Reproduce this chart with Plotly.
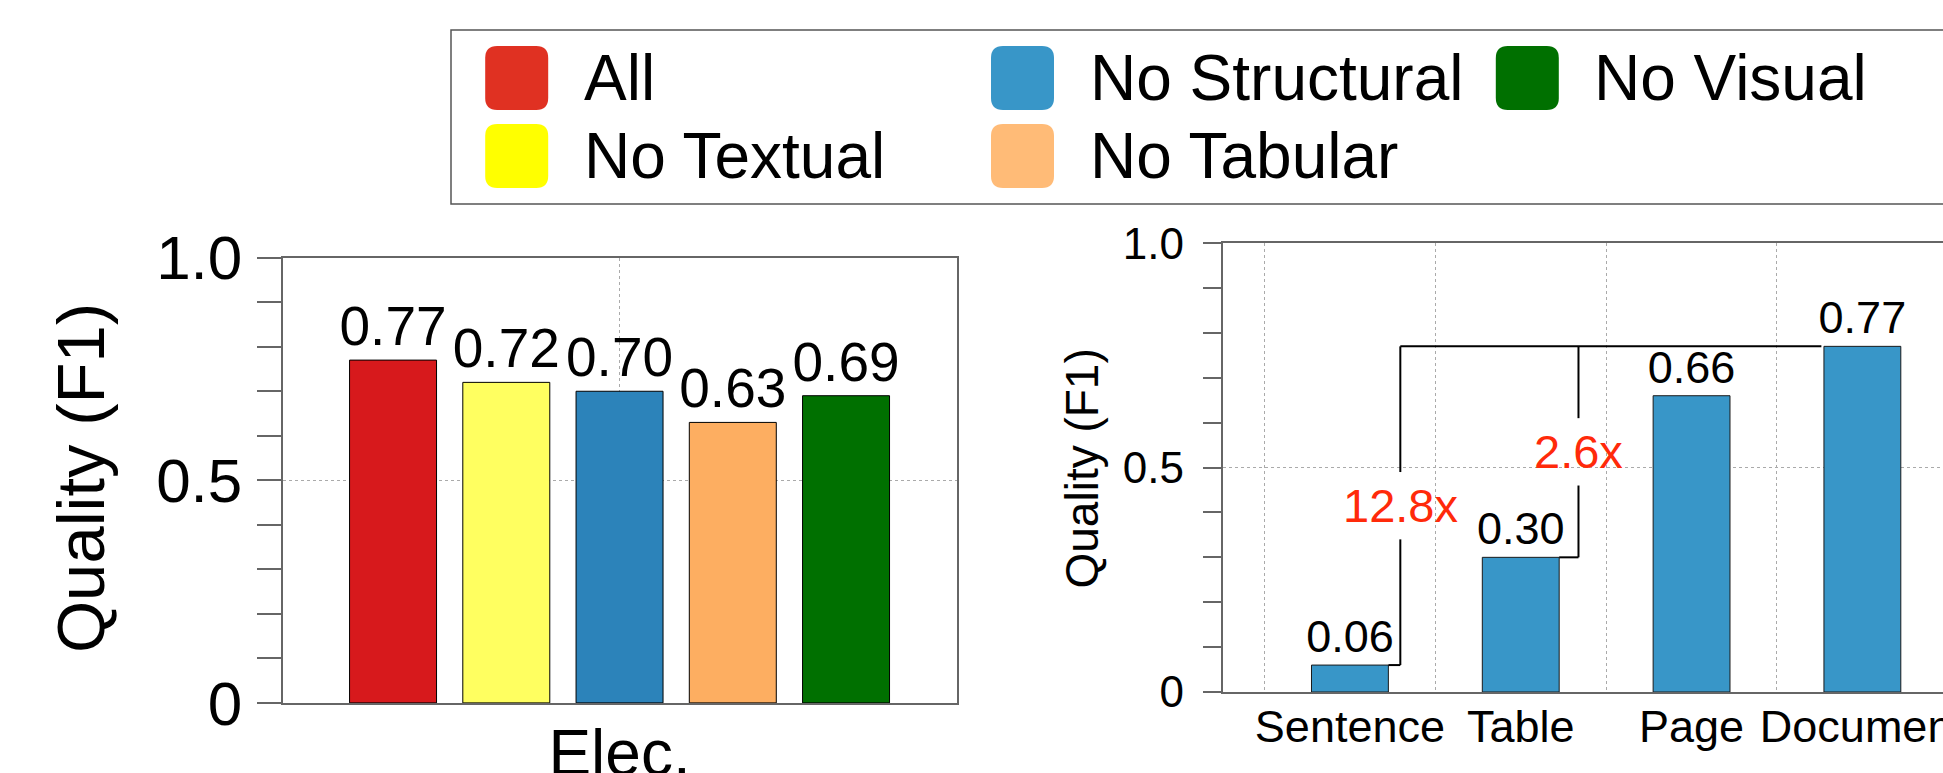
import plotly.graph_objects as go

W, H = 1943, 773
FONT = "Liberation Sans, Arial, Helvetica, sans-serif"

# ---------------- data ----------------
left_category = ["Elec."]
series_names = ["All", "No Textual", "No Structural", "No Tabular", "No Visual"]
series_values = [0.77, 0.72, 0.70, 0.63, 0.69]

granularity = ["Sentence", "Table", "Page", "Document"]
granularity_f1 = [0.06, 0.30, 0.66, 0.77]

y_tickvals = [0, 0.5, 1.0]
y_ticktext = ["0", "0.5", "1.0"]

# ---------------- style ----------------
bar_colors = ["#D7191C", "#FFFF60", "#2C83BA", "#FDAE61", "#007000"]
legend_colors = ["#E03122", "#FFFF00", "#3896C8", "#FFBB77", "#007000"]
right_color = "#3896C8"
ratio_color = "#FF2A0A"
axis_color = "#666666"
grid_color = "#AAAAAA"


def px(x):
    return x / W


def py(y):
    return 1 - y / H


fig = go.Figure()

for name, val, col in zip(series_names, series_values, bar_colors):
    fig.add_trace(go.Bar(
        x=left_category, y=[val], name=name,
        marker=dict(color=col, line=dict(color="#000000", width=1)),
        text=[f"{val:.2f}"], textposition="outside", constraintext="none",
        textfont=dict(size=55, color="black", family=FONT), cliponaxis=False,
        xaxis="x", yaxis="y", showlegend=False,
    ))

RIGHT_W = 0.45
fig.add_trace(go.Bar(
    x=granularity, y=granularity_f1, width=RIGHT_W,
    marker=dict(color=right_color, line=dict(color="#1a1a1a", width=1)),
    text=[f"{v:.2f}" for v in granularity_f1], textposition="outside", constraintext="none",
    textfont=dict(size=45, color="black", family=FONT), cliponaxis=False,
    xaxis="x2", yaxis="y2", showlegend=False,
))

common_axis = dict(showline=True, linecolor=axis_color, linewidth=1.5, zeroline=False,
                   showgrid=True, gridcolor=grid_color, griddash="dot", gridwidth=1,
                   automargin=False)

fig.update_layout(
    width=W, height=H, margin=dict(l=0, r=0, t=0, b=0),
    paper_bgcolor="white", plot_bgcolor="white",
    font=dict(family=FONT, color="black"),
    barmode="group", bargap=0.16, bargroupgap=0.232,
    showlegend=False,
    xaxis=dict(domain=[px(282.5), px(956.6)], anchor="y", type="category", range=[-0.5, 0.5],
               mirror=True, ticks="", tickangle=0, tickfont=dict(size=64), ticklabelstandoff=-6,
               **common_axis),
    yaxis=dict(domain=[py(702.9), py(257.7)], anchor="x", range=[0, 1],
               tickvals=y_tickvals, ticktext=y_ticktext, mirror=True,
               ticks="outside", ticklen=24, tickwidth=1.5, tickcolor=axis_color,
               tickfont=dict(size=62), ticklabelstandoff=2,
               minor=dict(ticks="outside", ticklen=24, tickwidth=1.5, tickcolor=axis_color,
                          dtick=0.1, showgrid=False),
               **common_axis),
    xaxis2=dict(domain=[px(1222.5), 1.0], anchor="y2", type="category", range=[-0.746, 3.472],
                tickson="boundaries", mirror=True, ticks="", tickangle=0, tickfont=dict(size=45),
                ticklabelstandoff=-6, **common_axis),
    yaxis2=dict(domain=[py(692), py(243.1)], anchor="x2", range=[0, 1],
                tickvals=y_tickvals, ticktext=y_ticktext, mirror=False,
                ticks="outside", ticklen=18, tickwidth=1.5, tickcolor=axis_color,
                tickfont=dict(size=44), ticklabelstandoff=10,
                minor=dict(ticks="outside", ticklen=18, tickwidth=1.5, tickcolor=axis_color,
                           dtick=0.1, showgrid=False),
                **common_axis),
)

annotations = []
shapes = []

# axis titles
annotations.append(dict(text="Quality (F1)", xref="paper", yref="paper", x=px(80), y=py(478),
                        textangle=-90, showarrow=False, xanchor="center", yanchor="middle",
                        font=dict(size=67, family=FONT, color="black")))
annotations.append(dict(text="Quality (F1)", xref="paper", yref="paper", x=px(1081), y=py(468.5),
                        textangle=-90, showarrow=False, xanchor="center", yanchor="middle",
                        font=dict(size=46, family=FONT, color="black")))

# ratio brackets on right panel
top_val = granularity_f1[-1]
top_end = len(granularity) - 1 - RIGHT_W / 2 - 0.015
bracket_specs = [(0, 0.07), (1, 0.113)]  # (category index, stub length)
GAP = 0.075
line_style = dict(color="black", width=2)
for idx, stub in bracket_specs:
    v = granularity_f1[idx]
    xr = idx + RIGHT_W / 2
    xv = xr + stub
    mid = (v + top_val) / 2
    shapes.append(dict(type="line", xref="x2", yref="y2", x0=xr, x1=xv, y0=v, y1=v, line=line_style))
    shapes.append(dict(type="line", xref="x2", yref="y2", x0=xv, x1=xv, y0=v, y1=mid - GAP, line=line_style))
    shapes.append(dict(type="line", xref="x2", yref="y2", x0=xv, x1=xv, y0=mid + GAP, y1=top_val, line=line_style))
    annotations.append(dict(text=f"{top_val / v:.1f}x", xref="x2", yref="y2", x=xv, y=mid,
                            showarrow=False, xanchor="center", yanchor="middle",
                            font=dict(size=47, family=FONT, color=ratio_color)))
first_x = bracket_specs[0][0] + RIGHT_W / 2 + bracket_specs[0][1]
shapes.append(dict(type="line", xref="x2", yref="y2", x0=first_x, x1=top_end, y0=top_val, y1=top_val,
                   line=line_style))

# legend (drawn manually, 3 columns filled column-wise)
shapes.append(dict(type="rect", xref="paper", yref="paper", x0=px(451), x1=1.05, y0=py(204), y1=py(30),
                   line=dict(color="#555555", width=1.5), fillcolor="rgba(0,0,0,0)", layer="above"))
col_cx = [516.7, 1022.5, 1527.3]
row_cy = [78, 156]
hw, hh, r = 31.5, 32, 12
swatch_path = (f"M {-hw + r},{-hh} L {hw - r},{-hh} Q {hw},{-hh} {hw},{-hh + r} "
               f"L {hw},{hh - r} Q {hw},{hh} {hw - r},{hh} L {-hw + r},{hh} "
               f"Q {-hw},{hh} {-hw},{hh - r} L {-hw},{-hh + r} Q {-hw},{-hh} {-hw + r},{-hh} Z")
for i, (name, col) in enumerate(zip(series_names, legend_colors)):
    c, rr = i // 2, i % 2
    cx, cy = col_cx[c], row_cy[rr]
    shapes.append(dict(type="path", xref="paper", yref="paper", xsizemode="pixel", ysizemode="pixel",
                       xanchor=px(cx), yanchor=py(cy), path=swatch_path, fillcolor=col,
                       line=dict(width=0), layer="above"))
    annotations.append(dict(text=name, xref="paper", yref="paper", x=px(cx + 65), y=py(cy),
                            showarrow=False, xanchor="left", yanchor="middle",
                            font=dict(size=64, family=FONT, color="black")))

fig.update_layout(annotations=annotations, shapes=shapes)

fig.write_html("out.html", config=dict(displayModeBar=False),
               post_script="document.body.style.margin='0';")
